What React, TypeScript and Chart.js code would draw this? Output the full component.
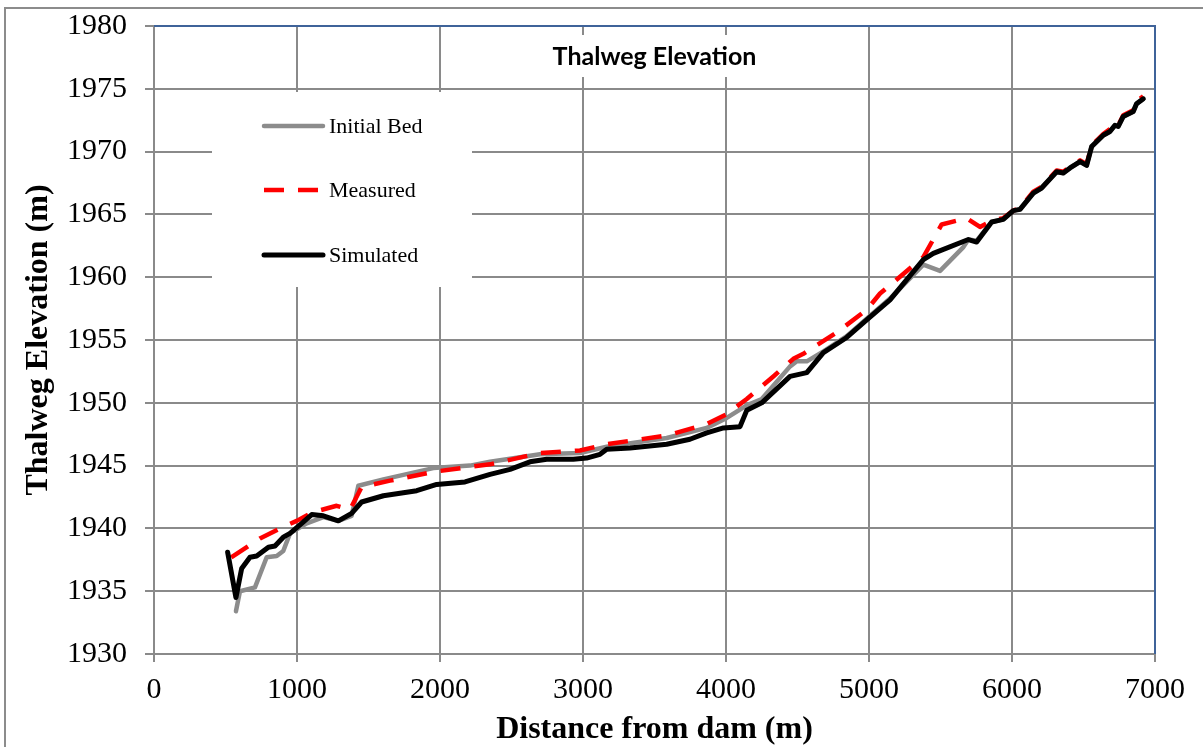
import React, { useEffect, useRef } from "react";
import { Chart, registerables } from "chart.js";

Chart.register(...registerables);

// ---- Data ----
const xTickValues = [0, 1000, 2000, 3000, 4000, 5000, 6000, 7000];
const yTickValues = [1930, 1935, 1940, 1945, 1950, 1955, 1960, 1965, 1970, 1975, 1980];

const initialDist = [
  573, 601, 706, 788, 858, 904, 951, 1068, 1184, 1289, 1382, 1429, 1604, 1953, 2210, 2350,
  2699, 2979, 3166, 3585, 3865, 4005, 4145, 4250, 4448, 4493, 4565, 4681, 4844, 4984, 5147,
  5380, 5497, 5660, 5695, 5753, 5858, 5939, 6009, 6056, 6149, 6207, 6312, 6359, 6406, 6476,
  6522, 6557, 6638, 6685, 6720, 6743, 6778, 6848, 6871, 6918,
];
const initialElev = [
  1933.4, 1935.0, 1935.3, 1937.7, 1937.8, 1938.2, 1939.6, 1940.4, 1940.9, 1940.6, 1941.0,
  1943.4, 1943.9, 1944.8, 1945.0, 1945.3, 1945.9, 1946.0, 1946.5, 1947.2, 1948.0, 1948.8,
  1949.8, 1950.3, 1952.9, 1953.3, 1953.3, 1954.1, 1955.3, 1956.7, 1958.3, 1961.0, 1960.5,
  1962.4, 1963.0, 1962.9, 1964.4, 1964.6, 1965.3, 1965.4, 1966.7, 1967.1, 1968.4, 1968.3,
  1968.7, 1969.2, 1968.9, 1970.4, 1971.3, 1971.6, 1972.1, 1972.0, 1972.8, 1973.2, 1973.8,
  1974.2,
];

const measuredDist = [
  540, 741, 881, 998, 1114, 1277, 1371, 1452, 1650, 1953, 2210, 2350, 2699, 2979, 3166, 3585,
  3865, 4005, 4145, 4331, 4471, 4541, 4774, 4984, 5077, 5380, 5508, 5683, 5776, 5858, 5939,
  6009, 6056, 6149, 6207, 6312, 6359, 6406, 6476, 6522, 6557, 6638, 6685, 6720, 6743, 6778,
  6848, 6871, 6918,
];
const measuredElev = [
  1937.7, 1939.2, 1940.0, 1940.6, 1941.3, 1941.8, 1941.5, 1943.3, 1943.8, 1944.5, 1944.9,
  1945.1, 1946.0, 1946.2, 1946.7, 1947.4, 1948.3, 1949.1, 1950.3, 1952.1, 1953.5, 1953.9,
  1955.6, 1957.4, 1958.7, 1961.6, 1964.2, 1964.7, 1964.0, 1964.5, 1964.7, 1965.3, 1965.5,
  1966.8, 1967.2, 1968.5, 1968.4, 1968.8, 1969.3, 1969.0, 1970.5, 1971.4, 1971.8, 1972.3,
  1972.1, 1972.9, 1973.3, 1974.0, 1974.4,
];

const simulatedDist = [
  515, 573, 613, 671, 718, 800, 846, 904, 951, 1033, 1103, 1184, 1289, 1382, 1452, 1604, 1837,
  1977, 2175, 2350, 2490, 2629, 2746, 2932, 3025, 3119, 3166, 3329, 3585, 3748, 3865, 3982,
  4098, 4145, 4250, 4448, 4565, 4681, 4844, 4984, 5147, 5380, 5450, 5695, 5753, 5858, 5939,
  6009, 6056, 6149, 6207, 6312, 6359, 6406, 6476, 6522, 6557, 6638, 6685, 6720, 6743, 6778,
  6848, 6871, 6918,
];
const simulatedElev = [
  1938.1, 1934.5, 1936.8, 1937.7, 1937.8, 1938.5, 1938.6, 1939.3, 1939.6, 1940.4, 1941.1,
  1941.0, 1940.6, 1941.2, 1942.1, 1942.6, 1943.0, 1943.5, 1943.7, 1944.3, 1944.7, 1945.3,
  1945.5, 1945.5, 1945.6, 1945.9, 1946.3, 1946.4, 1946.7, 1947.1, 1947.6, 1948.0, 1948.1,
  1949.4, 1950.0, 1952.1, 1952.4, 1954.0, 1955.2, 1956.6, 1958.2, 1961.4, 1961.9, 1963.0,
  1962.8, 1964.4, 1964.6, 1965.3, 1965.4, 1966.7, 1967.1, 1968.4, 1968.3, 1968.7, 1969.2,
  1968.9, 1970.4, 1971.3, 1971.6, 1972.1, 1972.0, 1972.8, 1973.2, 1973.8, 1974.2,
];

const seriesNames = ["Initial Bed", "Measured", "Simulated"];
const chartTitle = "Thalweg Elevation";
const xTitle = "Distance from dam (m)";
const yTitle = "Thalweg Elevation (m)";

const SERIF = "'Liberation Serif', 'Times New Roman', serif";
const GRID = "#8a8a8a";

const toPoints = (xs: number[], ys: number[]) => xs.map((x, i) => ({ x, y: ys[i] }));

const decorPlugin = {
  id: "decor",
  beforeDraw(chart: any) {
    const ctx = chart.ctx;
    ctx.save();
    ctx.fillStyle = "#ffffff";
    ctx.fillRect(0, 0, chart.width, chart.height);
    ctx.strokeStyle = "#8c8c8c";
    ctx.lineWidth = 2;
    ctx.strokeRect(5, 8, chart.width + 20, chart.height + 20);
    ctx.restore();
  },
  beforeDatasetsDraw(chart: any) {
    const ctx = chart.ctx;
    const area = chart.chartArea;
    ctx.save();
    // title box
    const cx = (area.left + area.right) / 2;
    ctx.fillStyle = "#ffffff";
    ctx.fillRect(cx - 115, area.top + 9, 230, 42);
    ctx.fillStyle = "#000000";
    ctx.font = "bold 25px Lato, 'Open Sans', sans-serif";
    ctx.textAlign = "center";
    ctx.textBaseline = "middle";
    ctx.fillText(chartTitle, cx, area.top + 31);
    // legend box
    ctx.fillStyle = "#ffffff";
    ctx.fillRect(212, 92, 260, 195);
    const rows = [126, 190, 255];
    chart.data.datasets.forEach((ds: any, i: number) => {
      const y = rows[i];
      ctx.save();
      ctx.strokeStyle = ds.borderColor;
      ctx.lineWidth = ds.borderWidth;
      ctx.lineCap = ds.borderDash && ds.borderDash.length ? "butt" : "round";
      ctx.setLineDash(ds.borderDash || []);
      ctx.beginPath();
      ctx.moveTo(264, y);
      ctx.lineTo(323, y);
      ctx.stroke();
      ctx.restore();
      ctx.fillStyle = "#000000";
      ctx.font = `22px ${SERIF}`;
      ctx.textAlign = "left";
      ctx.textBaseline = "middle";
      ctx.fillText(ds.label, 329, y + 1);
    });
    ctx.restore();
  },
  afterDraw(chart: any) {
    const ctx = chart.ctx;
    const area = chart.chartArea;
    ctx.save();
    ctx.strokeStyle = "#3f6399";
    ctx.lineWidth = 2;
    ctx.beginPath();
    ctx.moveTo(area.left, area.top);
    ctx.lineTo(area.right, area.top);
    ctx.lineTo(area.right, area.bottom);
    ctx.stroke();
    ctx.restore();
  },
};

export default function App() {
  const canvasRef = useRef<HTMLCanvasElement | null>(null);

  useEffect(() => {
    if (!canvasRef.current) return;
    const chart = new Chart(canvasRef.current, {
      type: "line",
      data: {
        datasets: [
          {
            label: seriesNames[0],
            data: toPoints(initialDist, initialElev),
            borderColor: "#8c8c8c",
            borderWidth: 4.5,
            borderJoinStyle: "round",
            borderCapStyle: "round",
            pointRadius: 0,
            tension: 0,
            order: 2,
          },
          {
            label: seriesNames[1],
            data: toPoints(measuredDist, measuredElev),
            borderColor: "#ff0000",
            borderWidth: 4.5,
            borderDash: [20, 14],
            borderJoinStyle: "round",
            pointRadius: 0,
            tension: 0,
            order: 1,
          },
          {
            label: seriesNames[2],
            data: toPoints(simulatedDist, simulatedElev),
            borderColor: "#000000",
            borderWidth: 5,
            borderJoinStyle: "round",
            borderCapStyle: "round",
            pointRadius: 0,
            tension: 0,
            order: 0,
          },
        ],
      },
      options: {
        animation: false,
        responsive: false,
        devicePixelRatio: 1,
        layout: { padding: { left: 0, right: 48, top: 26, bottom: 0 } },
        plugins: {
          legend: { display: false },
          tooltip: { enabled: false },
          title: { display: false },
        },
        scales: {
          x: {
            type: "linear",
            min: 0,
            max: 7000,
            afterBuildTicks: (scale: any) => {
              scale.ticks = xTickValues.map((v) => ({ value: v }));
            },
            afterFit: (scale: any) => {
              scale.height = 93;
              scale.paddingLeft = 0;
              scale.paddingRight = 0;
            },
            grid: { color: GRID, lineWidth: 2, tickLength: 8, drawTicks: true },
            border: { color: GRID, width: 2 },
            ticks: {
              color: "#000000",
              font: { family: SERIF, size: 30 },
              padding: 10,
              maxRotation: 0,
              callback: (v: any) => String(v),
            },
            title: {
              display: true,
              text: xTitle,
              color: "#000000",
              font: { family: SERIF, size: 32, weight: "bold", lineHeight: 1 },
              padding: { top: 0, bottom: 1 },
            },
          },
          y: {
            type: "linear",
            min: 1930,
            max: 1980,
            afterBuildTicks: (scale: any) => {
              scale.ticks = yTickValues.map((v) => ({ value: v }));
            },
            afterFit: (scale: any) => {
              scale.width = 154;
              scale.paddingTop = 0;
              scale.paddingBottom = 0;
            },
            grid: { color: GRID, lineWidth: 2, tickLength: 9, drawTicks: true },
            border: { color: GRID, width: 2 },
            ticks: {
              color: "#000000",
              font: { family: SERIF, size: 30 },
              padding: 18,
              callback: (v: any) => String(v),
            },
            title: {
              display: true,
              text: yTitle,
              color: "#000000",
              font: { family: SERIF, size: 32, weight: "bold", lineHeight: 1.2 },
              padding: { top: 20, bottom: 0 },
            },
          },
        },
      },
      plugins: [decorPlugin],
    });
    return () => chart.destroy();
  }, []);

  return (
    <div style={{ position: "fixed", left: 0, top: 0, width: 1203, height: 747, background: "#fff" }}>
      <canvas ref={canvasRef} width={1203} height={747} style={{ display: "block" }} />
    </div>
  );
}
